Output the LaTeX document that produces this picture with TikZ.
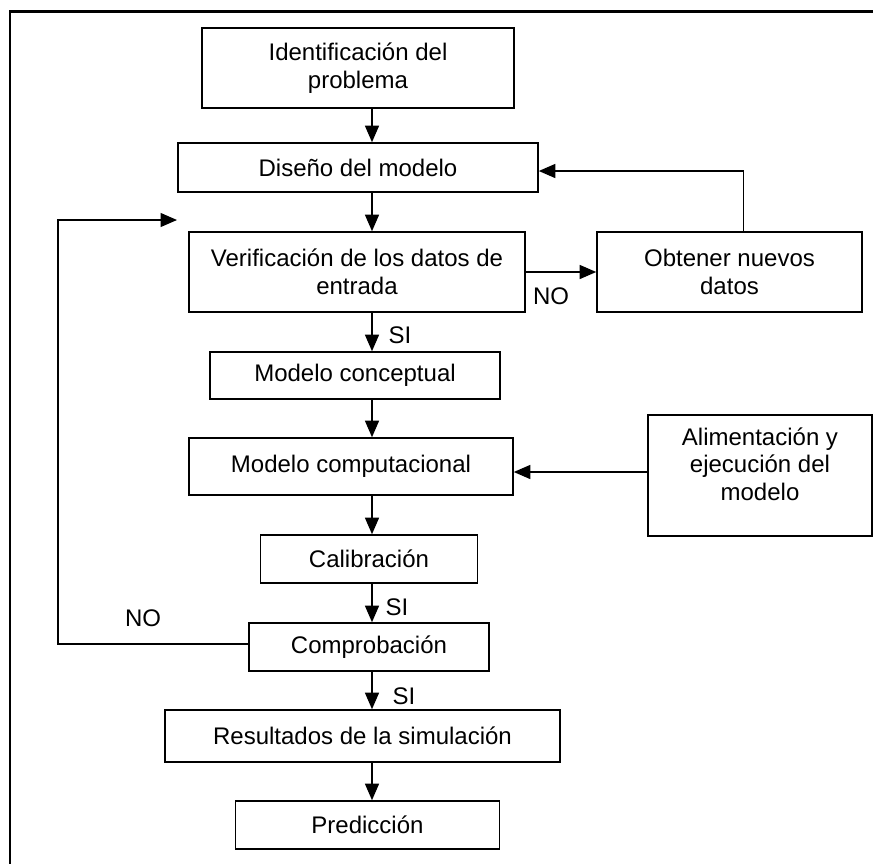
\documentclass[tikz,border=0pt]{standalone}
\usepackage{fontspec}
\setmainfont{Liberation Sans}
\usetikzlibrary{arrows.meta}

\begin{document}
\begin{tikzpicture}[x=1pt, y=-1pt, font=\fontsize{24}{27.5}\selectfont,
  stepbox/.style={draw, line width=1.6pt, inner sep=0pt, align=center},
  flow/.style={line width=1.3pt, -{Triangle[length=16.5pt,width=14pt]}},
  tag/.style={inner sep=0pt}]
  \useasboundingbox (0,0) rectangle (873,863);
  \draw[line width=2.6pt] (10,890) -- (10,11.7) -- (890,11.7);

  % main column
  \node[stepbox, minimum width=312pt, minimum height=80pt] (ident) at (358,68)
    {Identificación del\\problema};
  \node[stepbox, minimum width=360pt, minimum height=49pt] (diseno) at (358,167.5)
    {Diseño del modelo};
  \node[stepbox, minimum width=336pt, minimum height=80pt] (verif) at (357,272)
    {Verificación de los datos de\\entrada};
  \node[stepbox, minimum width=265pt, minimum height=80pt] (obtener) at (729.5,272)
    {Obtener nuevos\\datos};
  \node[stepbox, minimum width=290pt, minimum height=47pt] (concep) at (355,375.5)
    {Modelo conceptual};
  \node[stepbox, minimum width=324pt, minimum height=57pt] (comp) at (351,466.5)
    {Modelo computacional};
  \node[stepbox, minimum width=224pt, minimum height=121pt] (alim) at (760,475.5)
    {\raisebox{0pt}[39.25pt][43.25pt]{\begin{tabular}{@{}c@{}}Alimentación y\\
     ejecución del\\modelo\end{tabular}}};
  \node[stepbox, minimum width=217pt, minimum height=48pt] (calib) at (369,559)
    {Calibración};
  \node[stepbox, minimum width=240pt, minimum height=48pt] (compro) at (369,647)
    {Comprobación};
  \node[stepbox, minimum width=395pt, minimum height=52pt] (result) at (362.5,736)
    {Resultados de la simulación};
  \node[stepbox, minimum width=264pt, minimum height=48pt] (predic) at (367.5,825)
    {Predicción};

  % labels
  \node[tag] (no1) at (551,296) {NO};
  \node[tag] (si1) at (400,335) {SI};
  \node[tag] (si2) at (397,607) {SI};
  \node[tag] (si3) at (404,696) {SI};
  \node[tag] (no2) at (143,618) {NO};

  \coordinate (spine) at (372,0);
  \coordinate (loopcorner) at (58,220);
  \coordinate (loopend) at (177,220);

  % connectors
  \draw[flow] (ident.south -| spine) -- (diseno.north -| spine);
  \draw[flow] (diseno.south -| spine) -- (verif.north -| spine);
  \draw[flow] (verif.east) -- (obtener.west);
  \draw[flow] ([xshift=14pt]obtener.north) |- ([yshift=-3.5pt]diseno.east);
  \draw[flow] (verif.south -| spine) -- (concep.north -| spine);
  \draw[flow] (concep.south -| spine) -- (comp.north -| spine);
  \draw[flow] ([yshift=3.5pt]alim.west) -- ([yshift=3.5pt]alim.west -| comp.east);
  \draw[flow] (comp.south -| spine) -- (calib.north -| spine);
  \draw[flow] (calib.south -| spine) -- (compro.north -| spine);
  \draw[flow] (compro.south -| spine) -- (result.north -| spine);
  \draw[flow] (result.south -| spine) -- (predic.north -| spine);
  \draw[flow] ([yshift=3pt]compro.west) -| (loopcorner) -- (loopend);
\end{tikzpicture}
\end{document}
